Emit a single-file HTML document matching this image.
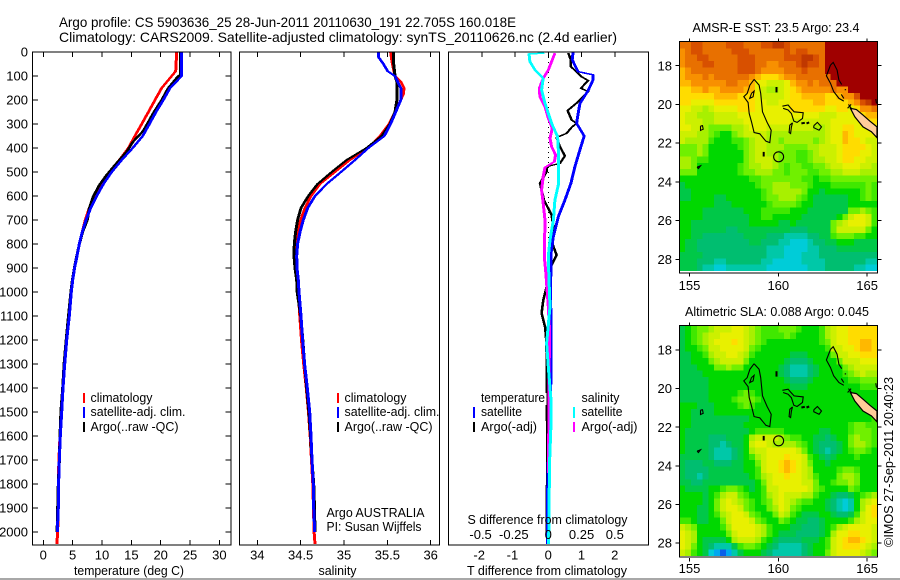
<!DOCTYPE html>
<html>
<head>
<meta charset="utf-8">
<title>Argo profile</title>
<style>
html,body{margin:0;padding:0;background:#fff;}
svg{display:block;}
text{font-family:"Liberation Sans",sans-serif;font-size:13px;fill:#000;}
.ln{fill:none;stroke-linejoin:round;shape-rendering:crispEdges;}
.frame{fill:none;stroke:#000;stroke-width:1.4;shape-rendering:crispEdges;}
</style>
</head>
<body>
<svg id="chart" xmlns="http://www.w3.org/2000/svg" width="900" height="580" viewBox="0 0 900 580">
<defs>
<clipPath id="clipA"><rect x="679" y="42" width="198.5" height="229"/></clipPath>
<clipPath id="clipB"><rect x="679" y="326" width="198.5" height="230"/></clipPath>
</defs>
<text x="59" y="27" style="font-size:14px" textLength="457" lengthAdjust="spacingAndGlyphs">Argo profile: CS 5903636_25 28-Jun-2011 20110630_191 22.705S 160.018E</text>
<text x="59" y="42" style="font-size:14px" textLength="558" lengthAdjust="spacingAndGlyphs">Climatology: CARS2009. Satellite-adjusted climatology: synTS_20110626.nc (2.4d earlier)</text>

<g id="p1"></g>
<g id="p2"></g>
<g id="p3"></g>
<g id="m1"></g>
<g id="m2"></g>

<rect class="frame" x="32.5" y="52" width="198.5" height="493"/>
<rect class="frame" x="239.5" y="52" width="200" height="493"/>
<rect class="frame" x="448.5" y="52" width="200" height="493"/>
<rect class="frame" x="679.5" y="41.5" width="198" height="231.5"/>
<rect class="frame" x="679.5" y="325.5" width="198" height="231.5"/>

<g>
<rect x="83" y="393" width="2" height="10" fill="#ff0000"/>
<rect x="83" y="407" width="2" height="11" fill="#0000ff"/>
<rect x="83" y="422" width="2" height="10" fill="#000"/>
<text x="90.5" y="402" textLength="62" lengthAdjust="spacingAndGlyphs">climatology</text>
<text x="90.5" y="416" textLength="95" lengthAdjust="spacingAndGlyphs">satellite-adj. clim.</text>
<text x="90.5" y="431" textLength="88" lengthAdjust="spacingAndGlyphs">Argo(..raw -QC)</text>
</g>
<g>
<rect x="337" y="393" width="2" height="10" fill="#ff0000"/>
<rect x="337" y="407" width="2" height="11" fill="#0000ff"/>
<rect x="337" y="422" width="2" height="10" fill="#000"/>
<text x="344.5" y="402" textLength="62" lengthAdjust="spacingAndGlyphs">climatology</text>
<text x="344.5" y="416" textLength="95" lengthAdjust="spacingAndGlyphs">satellite-adj. clim.</text>
<text x="344.5" y="431" textLength="88" lengthAdjust="spacingAndGlyphs">Argo(..raw -QC)</text>
<text x="326.5" y="517" textLength="98" lengthAdjust="spacingAndGlyphs">Argo AUSTRALIA</text>
<text x="326.5" y="531" textLength="95" lengthAdjust="spacingAndGlyphs">PI: Susan Wijffels</text>
</g>
<g>
<rect x="470" y="393" width="76.5" height="12" fill="#fff"/>
<text x="481" y="402" textLength="64" lengthAdjust="spacingAndGlyphs">temperature</text>
<rect x="473" y="407" width="2" height="11" fill="#0000ff"/>
<text x="481" y="416" textLength="41" lengthAdjust="spacingAndGlyphs">satellite</text>
<rect x="473" y="422" width="2" height="10" fill="#000"/>
<text x="481" y="431" textLength="56" lengthAdjust="spacingAndGlyphs">Argo(-adj)</text>
<text x="581.5" y="402" textLength="38" lengthAdjust="spacingAndGlyphs">salinity</text>
<rect x="573" y="407" width="2" height="11" fill="#00ffff"/>
<text x="581.5" y="416" textLength="41" lengthAdjust="spacingAndGlyphs">satellite</text>
<rect x="573" y="422" width="2" height="10" fill="#ff00ff"/>
<text x="581.5" y="431" textLength="56" lengthAdjust="spacingAndGlyphs">Argo(-adj)</text>
</g>

<text x="74" y="575" textLength="110" lengthAdjust="spacingAndGlyphs">temperature (deg C)</text>
<text x="318.5" y="575" textLength="38" lengthAdjust="spacingAndGlyphs">salinity</text>
<text x="467.5" y="524" textLength="160" lengthAdjust="spacingAndGlyphs">S difference from climatology</text>
<text x="467" y="575" textLength="160" lengthAdjust="spacingAndGlyphs">T difference from climatology</text>
<text x="692.5" y="32" textLength="167" lengthAdjust="spacingAndGlyphs">AMSR-E SST: 23.5 Argo: 23.4</text>
<text x="685" y="316" textLength="184" lengthAdjust="spacingAndGlyphs">Altimetric SLA: 0.088 Argo: 0.045</text>
<text transform="translate(893,547) rotate(-90)" x="0" y="0" textLength="170" lengthAdjust="spacingAndGlyphs">©IMOS 27-Sep-2011 20:40:23</text>
<rect x="0" y="578" width="900" height="2" fill="#a8a8a8"/>
</svg>
<script>
// ---------- profile data ----------
const depthTicks=[0,100,200,300,400,500,600,700,800,900,1000,1100,1200,1300,1400,1500,1600,1700,1800,1900,2000];
const tempTicks=[0,5,10,15,20,25,30];
const salTicks=[34,34.5,35,35.5,36];
const tDiffTicks=[-2,-1,0,1,2];
const sDiffTicks=[-0.5,-0.25,0,0.25,0.5];
const sDiffLabels=["-0.5","-0.25","0","0.25","0.5"];
const lonTicks=[155,160,165];
const latTicks=[18,20,22,24,26,28];

const tempDepths=[0,80,100,150,200,250,300,350,400,450,500,550,600,650,700,750,800,850,900,950,1000,1100,1200,1300,1400,1500,1600,1700,1800,1900,2000,2050];
const tempClim=[22.73,22.56,21.88,20.17,19.03,17.9,16.76,15.6,14.5,12.95,11.36,9.83,8.7,7.84,7.16,6.65,6.14,5.74,5.34,5.0,4.77,4.4,3.95,3.6,3.3,3.1,2.85,2.65,2.55,2.5,2.45,2.3];
const tempSat=[23.58,23.58,23.58,21.6,20.45,19.2,18.07,16.93,15.23,13.35,11.65,10.23,9.09,8.07,7.27,6.65,6.14,5.74,5.34,5.0,4.77,4.43,3.98,3.64,3.35,3.13,2.9,2.73,2.6,2.55,2.39];
const tempArgoDepths=[0,95,100,150,200,250,328,374,415,471,512,554,603,651,700,750,800,850,900,950,1000,1100,1200,1300,1400,1500,1600,1700,1800,1900,2000];
const tempArgo=[23.4,23.4,23.0,21.3,20.17,18.86,17.05,15.3,14.2,12.2,10.8,9.55,8.5,7.84,7.5,6.7,6.15,5.7,5.3,4.95,4.7,4.3,3.9,3.55,3.3,3.0,2.85,2.75,2.55,2.45,2.35];

const salDepths=[0,50,100,125,150,175,200,250,300,350,400,450,500,550,600,650,700,750,800,850,900,950,1000,1100,1200,1300,1400,1500,1600,1700,1800,1900,2000,2050];
const salClim=[35.538,35.558,35.588,35.658,35.692,35.685,35.654,35.588,35.519,35.415,35.281,35.069,34.896,34.723,34.619,34.55,34.5,34.473,34.454,34.446,34.454,34.465,34.473,34.49,34.51,34.535,34.565,34.59,34.61,34.625,34.64,34.648,34.655,34.665];
const salArgo=[35.573,35.573,35.588,35.61,35.61,35.61,35.61,35.588,35.53,35.435,35.26,35.03,34.858,34.696,34.588,34.504,34.465,34.442,34.427,34.423,34.435,34.454,34.46,34.5,34.525,34.545,34.57,34.595,34.615,34.63,34.65,34.66,34.665];
const salSatDepths=[0,20,50,80,100,130,150,200,250,300,350,400,450,500,550,600,650,700,750,800,850,900,950,1000,1100,1200,1300,1400,1500,1600,1700,1800,1900,2000];
const salSat=[35.396,35.396,35.454,35.504,35.588,35.627,35.655,35.655,35.596,35.538,35.465,35.281,35.127,34.965,34.8,34.665,34.581,34.531,34.492,34.465,34.454,34.458,34.473,34.481,34.504,34.523,34.546,34.577,34.604,34.619,34.631,34.646,34.65,34.662];

const dTSatDepths=[0,30,50,70,82,95,115,160,215,255,297,350,408,478,547,617,686,770,840,1000,1172,1366,1500,1700,1900,2000,2050];
const dTSat=[0.75,0.72,0.78,0.85,0.9,1.35,1.35,1.2,0.95,0.9,0.85,1.08,0.95,0.8,0.68,0.5,0.3,0.15,0.08,0.07,0.08,0.08,0.03,0,-0.03,-0.03,-0.03];
const dTArgoDepths=[5,33,61,89,103,119,151,165,207,244,283,297,314,339,356,394,433,464,478,499,547,617,679,728,783,846,894,950,1006,1033,1089,1144,1186,1300,1500,1700,2000];
const dTArgo=[0.6,0.68,0.68,0.9,1.0,1.2,0.98,1.2,0.9,0.58,0.7,0.85,0.7,0.55,0.25,0.35,0.5,0.35,-0.05,-0.05,-0.25,-0.13,0.1,0.15,0.08,0.25,0.08,0,-0.1,-0.15,-0.2,-0.1,-0.07,-0.04,-0.04,-0.03,-0.05];
const dSSatDepths=[5,8,40,75,110,158,214,297,353,436,547,617,700,783,853,950,1061,1214,1311,1450,1547,1728,1978,2050];
const dSSat=[-0.03,-0.145,-0.138,-0.1,-0.038,-0.05,-0.025,0.025,0.07,0.078,0.078,0.05,0.038,0.013,0,0.005,0.013,-0.013,0,0.02,0.02,0.008,0.005,0];
const dSArgoDepths=[5,40,75,110,151,186,228,276,318,360,394,429,457,481,519,575,631,700,853,922,1061,1150,1500,1755];
const dSArgo=[0.05,0.025,0,-0.038,-0.068,-0.063,-0.025,0,0.03,0.013,0.025,0.055,0.045,-0.025,-0.038,-0.05,-0.038,-0.025,-0.03,-0.018,0,0.008,0.005,0];

// ---------- map data (colour-scale level of each grid cell) ----------
const sstGrid=[
[15,15,16,16,15,15,15,15,16,16,16,15,15,15,16,16,17,17,16,15,15,15,15,15,15,18,18,18,18,18,18,18,18,18],
[14,15,16,16,15,15,15,15,15,16,16,16,15,15,15,15,15,15,16,15,16,16,15,15,15,18,18,18,18,18,18,18,18,18],
[14,15,15,16,16,15,15,15,15,15,16,16,16,15,15,15,15,15,16,16,16,17,17,16,15,18,18,18,18,18,18,18,18,18],
[14,15,15,15,16,16,15,15,15,15,16,16,16,15,15,14,14,15,15,15,16,17,16,16,15,18,18,18,18,18,18,18,18,18],
[13,14,15,15,15,15,15,15,15,15,16,16,16,15,14,14,14,14,15,15,15,16,15,15,15,18,18,18,18,18,18,18,18,18],
[13,14,14,14,15,14,15,15,15,15,15,15,14,13,12,12,12,13,14,14,15,15,15,15,15,15,18,18,18,18,18,18,18,18],
[13,13,14,14,14,14,14,14,15,15,14,14,13,11,11,10,10,10,11,13,14,14,15,14,15,15,15,18,18,18,18,18,18,18],
[12,12,13,13,14,13,13,14,14,14,14,13,13,11,10,9,9,10,11,12,13,14,14,14,14,14,15,14,14,18,18,18,18,18],
[12,12,12,12,12,12,13,13,13,13,12,12,12,11,10,10,10,10,11,12,12,13,13,13,13,12,12,13,14,14,16,18,18,18],
[12,12,11,11,11,11,12,12,12,12,12,12,12,11,11,10,10,11,11,12,12,12,12,13,13,12,12,12,12,13,14,16,17,18],
[11,11,10,10,9,10,11,11,11,11,12,12,12,11,11,11,11,11,11,12,12,12,12,12,12,11,11,12,12,11,12,14,14,15],
[11,10,10,9,9,9,10,10,10,10,11,11,11,11,11,11,11,11,11,11,11,11,11,11,10,10,10,11,11,11,11,12,13,13],
[11,10,10,10,9,9,10,10,10,10,10,11,11,11,11,11,11,11,11,10,10,10,10,10,10,10,11,11,11,11,11,11,12,12],
[11,11,10,10,9,8,8,8,8,9,9,10,11,11,11,10,10,10,10,10,10,10,10,9,9,10,11,11,12,12,11,11,11,11],
[10,10,10,9,9,8,7,6,6,8,9,10,10,10,10,9,9,9,9,9,9,9,9,9,9,10,11,11,13,12,11,11,11,11],
[10,9,9,9,9,7,6,6,6,7,7,8,9,10,10,9,9,8,9,9,9,9,9,8,9,10,11,11,13,12,12,11,10,10],
[8,8,8,9,8,6,6,6,6,6,7,8,9,10,10,9,9,9,8,8,8,8,9,9,10,10,10,11,12,12,12,12,11,10],
[8,8,8,9,8,6,6,6,6,6,6,8,9,10,10,9,9,8,8,8,7,7,8,9,10,10,10,11,12,12,12,11,11,10],
[9,9,8,7,7,6,6,6,6,6,6,8,9,10,10,10,9,8,8,8,7,7,8,9,9,10,10,11,12,12,11,11,10,10],
[9,9,8,6,6,6,6,6,6,6,7,8,9,9,10,10,9,8,7,8,8,7,7,8,8,9,10,10,11,11,11,10,10,9],
[8,8,8,6,6,6,6,6,6,6,7,8,8,9,9,9,8,8,7,8,8,8,7,7,8,8,9,9,10,10,10,9,9,9],
[6,6,6,6,6,6,6,6,6,6,6,6,7,7,8,8,8,8,8,8,8,7,7,6,7,7,8,8,8,8,8,8,8,8],
[5,6,6,6,6,6,6,6,6,6,6,6,6,7,8,8,9,9,9,8,8,8,7,6,6,6,7,7,7,7,7,7,8,7],
[5,5,6,6,6,6,6,6,6,6,6,6,6,6,7,8,9,9,9,9,9,8,6,6,5,6,6,6,6,6,6,7,8,7],
[5,5,6,6,6,6,5,5,6,6,6,6,6,6,7,8,8,9,9,9,8,7,6,5,5,5,5,5,5,6,6,7,8,7],
[6,6,6,6,6,6,5,5,5,6,6,6,6,6,6,7,8,8,8,8,7,6,6,5,5,5,5,5,5,6,6,6,6,6],
[6,6,6,6,5,5,5,5,5,5,5,6,6,6,7,7,7,7,7,6,6,6,5,5,5,5,5,5,5,8,8,9,8,7],
[6,6,6,6,5,5,5,5,5,5,5,5,6,6,7,7,6,6,6,6,6,5,5,5,5,5,5,6,8,10,11,11,10,7],
[6,6,5,5,5,5,5,5,5,5,5,5,6,6,6,6,6,5,5,6,5,5,5,5,5,5,8,9,10,11,11,11,10,7],
[6,6,5,5,5,5,5,5,4,4,5,5,5,5,5,5,5,5,5,4,4,4,5,5,5,5,8,10,10,10,10,10,8,6],
[6,6,5,5,4,4,4,4,4,4,4,5,5,5,5,4,4,4,3,3,3,3,4,4,5,5,7,8,8,8,7,7,6,6],
[6,5,5,4,4,4,4,4,4,4,4,4,5,5,4,4,4,3,3,2,2,2,3,4,4,5,5,6,6,6,5,5,5,5],
[6,5,5,4,4,4,4,4,4,4,4,4,4,4,4,3,3,3,2,2,2,2,3,3,4,4,4,5,5,5,5,5,5,5],
[5,5,5,5,4,4,4,4,4,4,4,4,4,4,4,3,3,3,2,2,2,3,3,3,4,4,4,4,4,4,4,4,4,4],
[5,5,5,4,4,4,3,3,4,4,4,4,4,4,3,3,2,2,2,2,2,3,3,3,3,4,4,4,4,4,4,4,3,3],
[5,5,5,4,3,3,2,2,3,3,3,3,3,3,3,2,2,2,2,2,2,2,3,3,3,4,4,4,4,4,3,3,2,2]
];
const slaGrid=[
[5,6,7,8,8,9,10,10,10,11,11,10,9,8,7,7,7,8,8,8,7,6,6,6,7,9,10,11,11,12,12,12,12,12],
[5,6,7,8,9,10,10,11,11,11,11,10,9,8,7,7,7,7,8,7,6,6,6,6,7,9,10,11,11,12,12,12,12,12],
[5,6,7,8,9,10,11,11,11,12,11,10,9,8,7,6,6,6,6,6,6,6,6,6,7,8,10,11,11,12,12,13,13,12],
[5,6,6,7,8,10,10,11,11,11,11,10,8,7,6,6,6,6,6,6,6,6,6,6,6,7,10,10,11,11,12,13,13,12],
[5,5,6,6,7,9,10,10,11,11,10,9,7,6,6,6,6,6,6,5,5,5,6,6,6,6,8,10,10,11,11,12,12,12],
[5,5,6,6,6,8,9,10,10,10,10,8,6,6,6,6,6,6,5,4,4,4,5,6,6,6,6,8,10,10,10,11,11,11],
[5,5,5,6,6,6,8,8,9,8,8,6,6,6,6,6,6,5,4,3,3,3,4,5,6,6,6,6,8,9,10,10,10,10],
[5,5,5,5,6,6,6,6,6,6,6,6,6,6,6,6,6,5,4,3,3,3,4,5,6,6,6,6,7,8,9,10,9,9],
[5,5,5,5,5,6,6,6,6,6,6,6,6,6,6,6,6,6,5,4,4,4,5,6,6,6,6,6,6,7,7,8,8,8],
[5,5,5,5,5,6,6,6,6,6,6,6,6,6,6,6,6,6,6,5,5,5,6,6,6,6,6,6,6,6,6,7,7,7],
[5,5,5,5,5,6,6,6,6,6,7,8,7,6,6,6,6,6,6,6,6,6,6,6,6,6,6,6,6,6,6,6,6,6],
[5,5,5,5,5,6,6,6,6,7,8,8,8,7,6,6,6,6,6,6,6,6,6,6,6,6,6,6,6,6,6,6,6,6],
[6,6,6,5,5,5,6,6,6,6,7,8,7,6,6,6,6,6,6,6,6,6,6,6,6,6,6,6,6,6,6,6,6,6],
[6,6,5,5,5,5,6,6,6,6,6,6,6,6,6,6,6,6,6,6,6,6,6,6,6,6,6,6,6,6,6,6,6,6],
[6,6,5,5,5,5,5,5,5,5,5,5,6,6,6,6,6,6,6,6,6,6,6,6,6,6,6,6,6,6,6,6,6,7],
[6,6,5,5,5,5,5,5,5,5,5,6,6,6,6,6,6,6,6,6,6,6,6,6,6,6,6,6,6,7,8,8,7,7],
[6,5,5,5,5,5,5,5,5,5,5,5,6,7,7,7,7,7,6,6,6,6,6,6,5,5,6,6,6,7,8,8,8,7],
[6,5,5,5,5,4,4,4,5,5,5,6,9,10,10,10,10,9,8,7,7,6,6,5,5,4,5,6,6,8,9,8,8,7],
[6,5,5,5,5,4,4,3,4,5,5,6,10,11,11,10,9,9,9,9,8,7,6,5,4,4,4,5,6,8,9,9,8,7],
[6,5,5,5,5,4,3,3,3,4,5,6,9,10,10,11,11,11,11,11,10,8,6,5,4,3,4,5,6,7,8,8,7,6],
[5,5,5,5,5,4,3,3,3,4,5,6,7,9,10,11,11,11,12,11,11,10,7,6,5,4,5,6,6,6,7,6,6,6],
[5,4,4,4,5,5,4,4,4,5,5,6,6,8,10,11,11,12,13,12,11,10,8,6,6,5,6,6,6,6,6,6,6,6],
[5,4,4,4,4,5,5,5,5,5,5,6,6,7,10,11,11,12,13,12,11,10,9,6,6,6,6,7,8,8,7,6,6,6],
[5,4,4,3,4,5,5,5,5,5,5,5,6,7,9,10,11,11,12,11,11,10,9,7,6,6,6,8,9,9,8,6,6,6],
[5,5,4,4,5,5,5,5,5,5,5,5,5,6,8,10,11,11,11,11,11,10,10,8,6,6,7,8,8,9,8,6,6,6],
[6,5,5,5,5,6,6,7,8,8,7,6,5,6,7,10,10,11,11,11,11,11,10,8,7,6,6,6,6,8,7,6,6,6],
[6,6,6,6,5,6,7,9,10,10,8,7,6,6,7,9,10,11,10,10,10,9,9,7,6,6,5,4,4,5,6,7,8,9],
[6,6,6,6,5,6,8,10,11,10,9,8,7,6,7,8,10,11,10,9,8,7,7,6,6,5,4,3,2,3,6,9,10,11],
[6,6,6,5,5,6,8,10,11,11,10,8,7,6,6,8,9,11,10,8,7,6,6,6,6,5,4,3,2,3,6,9,11,12],
[6,6,6,5,5,6,7,9,10,11,11,10,8,7,6,6,8,10,9,7,6,5,5,5,6,6,5,4,4,5,7,10,11,12],
[7,7,6,5,5,6,6,8,10,11,11,11,10,8,7,6,6,8,7,6,5,5,4,4,5,6,6,6,6,7,9,10,11,11],
[10,9,8,6,6,6,6,7,9,11,11,11,11,10,9,7,6,6,6,5,5,4,4,4,5,6,7,9,10,11,11,11,11,10],
[11,10,9,6,6,6,6,6,8,10,11,11,11,10,9,7,6,5,5,5,4,4,4,4,5,6,9,11,11,12,12,11,11,10],
[11,10,9,6,5,5,5,5,6,9,10,10,10,9,7,6,5,4,4,4,4,5,5,5,6,7,10,11,12,13,13,12,11,10],
[11,10,8,6,5,4,3,3,3,5,7,8,8,7,6,5,4,3,3,3,3,4,5,6,6,7,10,11,12,12,12,11,10,9],
[10,9,7,6,5,2,1,0,1,3,5,6,6,6,5,4,3,3,3,3,3,4,5,6,6,8,10,11,11,11,11,10,9,8]
];
const levelColors=["#0a5fe8","#00a8f0","#00ccd8","#00c8a8","#00be70","#00c848","#00d800","#40e800","#70f000","#a8f000","#ccf000","#e8f000","#ffdc00","#ffb800","#f89000","#e87000","#d85000","#c03800","#a00000"];
const argoLon=[160.018];
const argoLat=[22.705];

// ---------- coastlines (lon, lat) ----------
const coastLines=[
[[158.64,18.71],[158.4,19.0],[158.25,19.43],[158.06,19.6],[158.3,19.9],[158.36,20.47],[158.49,20.9],[158.64,21.45],[158.96,21.52],[159.3,21.9],[159.52,21.97],[159.6,21.33],[159.37,20.93],[159.11,20.38],[159.01,19.43],[158.92,19.0],[158.64,18.71]],
[[158.49,19.43],[158.64,19.31],[158.58,19.6],[158.39,19.69],[158.49,19.43]],
[[160.23,20.09],[160.55,20.03],[160.68,20.17],[160.89,20.38],[161.4,20.43],[161.36,20.72],[161.06,20.93],[160.87,20.86],[160.74,20.47],[160.55,20.29],[160.27,20.2]],
[[160.8,20.95],[160.65,21.07],[160.61,21.45],[160.69,21.5],[160.74,21.17],[160.8,20.95]],
[[162.0,21.1],[162.2,20.93],[162.43,21.16],[162.3,21.33],[162.0,21.2],[162.0,21.1]],
[[155.62,21.12],[155.73,21.1],[155.77,21.28],[155.62,21.34],[155.62,21.12]],
[[155.43,23.24],[155.62,23.17],[155.5,23.31],[155.43,23.24]],
[[162.94,17.97],[163.09,17.83],[163.31,18.22],[163.41,18.74],[163.57,18.97]],
[[162.94,17.97],[162.71,18.52],[162.94,18.91],[163.12,19.34],[163.42,19.69],[163.69,19.83]],
[[163.55,19.48],[163.69,19.69]],
[[163.74,19.24],[163.82,19.24]],
[[163.95,20.0],[164.15,20.25]],
[[164.1,20.0],[163.9,20.2]],
[[165.49,19.72],[165.53,19.95]]
];
const coastBars=[
[[159.9,19.1],[159.9,19.38]],
[[159.18,22.45],[159.18,22.69]],
[[161.3,20.98],[161.49,20.95]],
[[161.59,20.98],[161.74,20.93]]
];
const caledonia=[[164.06,20.2],[164.4,20.26],[164.77,20.55],[165.15,20.86],[165.56,21.16],[165.56,21.72],[165.24,21.41],[164.77,21.16],[164.31,20.64]];

// ---------- axis functions ----------
const NS='http://www.w3.org/2000/svg';
function yDepth(d){return 52+d*0.24;}
function xTemp(t){return 43.3+t*5.87;}
function xSal(s){return 257.3+(s-34)*86.7;}
function xDT(t){return 548.3+t*33.25;}
function xDS(s){return 548.3+s*133;}
function lonX(l){return 778.3+(l-160)*17.76;}
function latA(l){return 65.7+(l-18)*19.36;}
function latB(l){return 350+(l-18)*19.3;}

function mk(tag,parent,attrs){
  const el=document.createElementNS(NS,tag);
  for(const k in attrs)el.setAttribute(k,attrs[k]);
  parent.appendChild(el);
  return el;
}
function line(parent,x1,y1,x2,y2,w){
  return mk('line',parent,{x1:x1,y1:y1,x2:x2,y2:y2,stroke:'#000','stroke-width':w||1,'shape-rendering':'crispEdges'});
}
function txt(parent,x,y,s,anchor){
  const el=mk('text',parent,{x:x,y:y,'text-anchor':anchor||'middle'});
  el.textContent=s;
  return el;
}
// Stroke is anisotropic: wide on near-vertical runs, thin on sloped ones, like the stepped bitmap source.
function profile(parent,values,depths,xFn,color,w){
  const pts=values.map((v,i)=>xFn(v).toFixed(1)+','+(yDepth(depths[i])*2).toFixed(1)).join(' ');
  return mk('polyline',parent,{points:pts,stroke:color,'stroke-width':w,'class':'ln',transform:'scale(1,0.5)'});
}

const p1=document.getElementById('p1');
const p2=document.getElementById('p2');
const p3=document.getElementById('p3');
const m1=document.getElementById('m1');
const m2=document.getElementById('m2');

// ---------- temperature panel ----------
let s;
s=profile(p1,tempClim,tempDepths,xTemp,'#ff0000',3);


s=profile(p1,tempArgo,tempArgoDepths,xTemp,'#000000',3);


s=profile(p1,tempSat,tempDepths,xTemp,'#0000ff',3);



depthTicks.forEach(d=>{
  const y=yDepth(d);
  const a=line(p1,32.5,y,38,y);
  
  
  const b=line(p1,225.5,y,231,y);
  
  
  const t=txt(p1,28,y+4.6,String(d),'end');
  
  
});
tempTicks.forEach(v=>{
  const x=xTemp(v);
  const a=line(p1,x,52,x,57);
  
  
  const b=line(p1,x,540,x,545);
  
  
  const t=txt(p1,x,559.5,String(v));
  
  
});

// ---------- salinity panel ----------
s=profile(p2,salClim,salDepths,xSal,'#ff0000',3);


s=profile(p2,salArgo,salDepths,xSal,'#000000',3);


s=profile(p2,salSat,salSatDepths,xSal,'#0000ff',3);


salTicks.forEach(v=>{
  const x=xSal(v);
  const a=line(p2,x,52,x,57);
  
  
  const b=line(p2,x,540,x,545);
  
  
  const t=txt(p2,x,559.5,String(v));
  
  
});

// ---------- difference panel ----------
const zero=line(p3,xDT(0),52,xDT(0),545,1);
zero.setAttribute('stroke-dasharray','1 4');


s=profile(p3,dTArgo,dTArgoDepths,xDT,'#000000',2.6);


s=profile(p3,dTSat,dTSatDepths,xDT,'#0000ff',3);


s=profile(p3,dSArgo,dSArgoDepths,xDS,'#ff00ff',3);


s=profile(p3,dSSat,dSSatDepths,xDS,'#00ffff',3);


tDiffTicks.forEach(v=>{
  const x=xDT(v);
  const a=line(p3,x,52,x,57);
  
  
  const t=txt(p3,v<0?x-2.6:x,559.5,String(v));
  
  
});
sDiffTicks.forEach((v,i)=>{
  const t=txt(p3,v<0?xDS(v)-1.2:xDS(v),539,sDiffLabels[i]);
  
  
});

// ---------- maps ----------
function drawMap(g,grid,top,bottom,latFn,clipId,lonBase){
  const left=679.3,right=877.3;
  const cw=(right-left)/grid[0].length,ch=(bottom-top)/grid.length;
  const heat=mk('g',g,{'clip-path':'url(#'+clipId+')','shape-rendering':'crispEdges'});
  
  
  grid.forEach((row,r)=>row.forEach((v,c)=>{
    const cell=mk('rect',heat,{x:(left+c*cw).toFixed(2),y:(top+r*ch).toFixed(2),width:(cw+0.6).toFixed(2),height:(ch+0.6).toFixed(2),fill:levelColors[v]});
    
    
  }));
  const coast=mk('g',g,{'clip-path':'url(#'+clipId+')'});
  
  
  const toPts=a=>a.map(p=>lonX(p[0]).toFixed(1)+','+latFn(p[1]).toFixed(1)).join(' ');
  const land=mk('polygon',coast,{points:toPts(caledonia),fill:'#ffcc99',stroke:'#000','stroke-width':1.2});
  
  
  coastLines.forEach(a=>{
    const l=mk('polyline',coast,{points:toPts(a),fill:'none',stroke:'#000','stroke-width':1.1});
    
    
  });
  coastBars.forEach(a=>{
    const l=mk('polyline',coast,{points:toPts(a),fill:'none',stroke:'#000','stroke-width':2});
    
    
  });
  const mark=mk('circle',g,{cx:lonX(argoLon[0]),cy:latFn(argoLat[0]),r:5,fill:'none',stroke:'#000','stroke-width':1.1});
  
  
  lonTicks.forEach(v=>{
    const x=lonX(v);
    const a=line(g,x,top-3.5,x,top);
    
    
    const b=line(g,x,bottom+2,x,bottom+5.5);
    
    
    const t=txt(g,x,lonBase,String(v));
    
    
  });
  latTicks.forEach(v=>{
    const y=latFn(v);
    const a=line(g,675.5,y,679,y);
    
    
    const b=line(g,878,y,881.5,y);
    
    
    const t=txt(g,672,y+4.6,String(v),'end');
    
    
  });
}
drawMap(m1,sstGrid,42,271,latA,'clipA',290);
drawMap(m2,slaGrid,326,556,latB,'clipB',573);
</script>
</body>
</html>
